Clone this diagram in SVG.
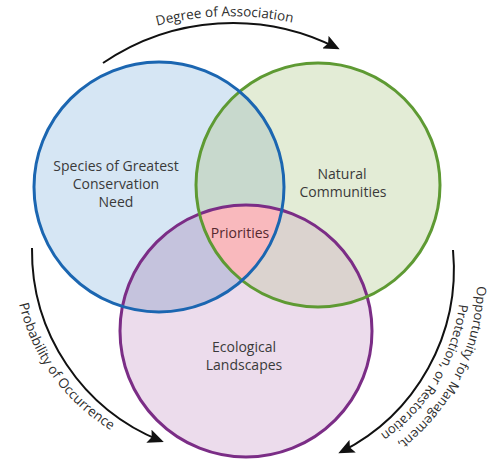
<svg xmlns="http://www.w3.org/2000/svg" width="492" height="462" viewBox="0 0 492 462">
  <style>
    .label { font-family: "Open Sans", "Liberation Sans", sans-serif; font-size: 14px; fill: #3a3a3a; text-anchor: middle; }
    .arc-label { font-family: "Open Sans", "Liberation Sans", sans-serif; font-size: 13.5px; fill: #2e2e2e; }
    .arc-label.small { font-size: 13px; }
    .arrow { fill: none; stroke: #111; stroke-width: 2; marker-end: url(#head); }
    .ring { fill: none; stroke-width: 3; }
  </style>
  <defs>
    <marker id="head" viewBox="0 0 16 14" markerWidth="16" markerHeight="14" refX="13" refY="7" orient="auto" markerUnits="userSpaceOnUse">
      <path d="M0,0 L16,7 L0,14 L3,7 z" fill="#111"/>
    </marker>
    <clipPath id="clip-blue"><circle cx="159" cy="187" r="125"/></clipPath>
    <clipPath id="clip-green"><circle cx="318" cy="185" r="122"/></clipPath>
    <!-- baselines for the curved captions -->
    <path id="top-caption" d="M 140 31 A 290 290 0 0 1 310 27"/>
    <path id="left-caption" d="M 19 304 A 203 203 0 0 0 143 446"/>
    <path id="right-caption-outer" d="M 477 286 A 204 204 0 0 1 374 459"/>
    <path id="right-caption-inner" d="M 459 304 A 186 186 0 0 1 366 443"/>
  </defs>

  <rect width="492" height="462" fill="#ffffff"/>

  <!-- circle fills and overlap tints -->
  <g id="fills">
    <circle cx="159" cy="187" r="125" fill="#d6e6f4"/>
    <circle cx="318" cy="185" r="122" fill="#e3ecd6"/>
    <circle cx="246" cy="331" r="126" fill="#ecdcec"/>
    <circle cx="318" cy="185" r="122" fill="#c8d9cd" clip-path="url(#clip-blue)"/>
    <circle cx="246" cy="331" r="126" fill="#c5c3dd" clip-path="url(#clip-blue)"/>
    <circle cx="246" cy="331" r="126" fill="#dbd3cf" clip-path="url(#clip-green)"/>
    <g clip-path="url(#clip-blue)">
      <circle cx="246" cy="331" r="126" fill="#f9b9bd" clip-path="url(#clip-green)"/>
    </g>
  </g>

  <g id="landscapes">
    <circle class="ring" cx="246" cy="331" r="126" stroke="#7b2d86"/>
    <text class="label" x="244" y="352">Ecological</text>
    <text class="label" x="244" y="370">Landscapes</text>
  </g>

  <g id="natural">
    <circle class="ring" cx="318" cy="185" r="122" stroke="#5e9a33"/>
    <text class="label" x="342" y="179">Natural</text>
    <text class="label" x="343" y="197">Communities</text>
  </g>

  <g id="species">
    <circle class="ring" cx="159" cy="187" r="125" stroke="#1b66b1"/>
    <text class="label" x="116" y="171">Species of Greatest</text>
    <text class="label" x="116" y="189">Conservation</text>
    <text class="label" x="116" y="207">Need</text>
  </g>

  <g id="priorities">
    <text class="label" x="240" y="238" style="fill:#55282f">Priorities</text>
  </g>

  <g id="connectors">
    <path class="arrow" d="M 103 63 A 230 230 0 0 1 337 48"/>
    <path class="arrow" d="M 32 248 A 205 205 0 0 0 161 441"/>
    <path class="arrow" d="M 453 250 A 205 205 0 0 1 341 452"/>
    <text class="arc-label"><textPath href="#top-caption" startOffset="50%" text-anchor="middle">Degree of Association</textPath></text>
    <text class="arc-label"><textPath href="#left-caption">Probability of Occurrence</textPath></text>
    <text class="arc-label small"><textPath href="#right-caption-outer">Opportunity for Management,</textPath></text>
    <text class="arc-label small"><textPath href="#right-caption-inner">Protection, or Restoration</textPath></text>
  </g>
</svg>
